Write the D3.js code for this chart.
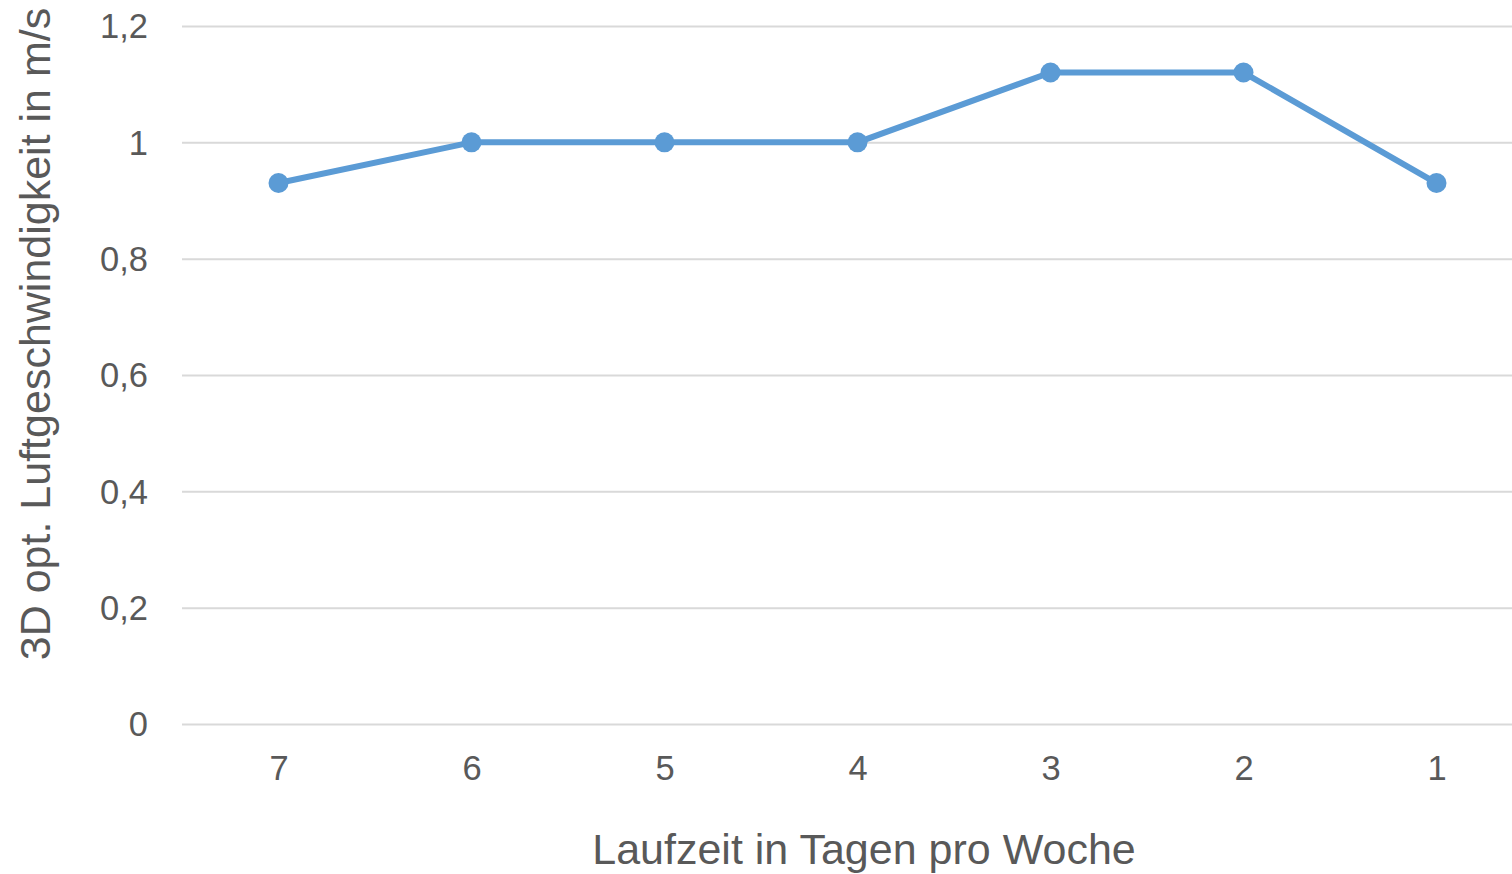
<!DOCTYPE html>
<html><head><meta charset="utf-8">
<script src="https://cdn.jsdelivr.net/npm/d3@7"></script>
<style>html,body{margin:0;padding:0;background:#fff;overflow:hidden}</style>
</head><body>
<svg id="c" width="1512" height="874"></svg>
<script>
const categories = ["7","6","5","4","3","2","1"];
const values = [0.93, 1.0, 1.0, 1.0, 1.12, 1.12, 0.93];
const yTicks = [0, 0.2, 0.4, 0.6, 0.8, 1.0, 1.2];
const xTitle = "Laufzeit in Tagen pro Woche";
const yTitle = "3D opt. Luftgeschwindigkeit in m/s";

(function(){
const svg = d3.select("#c");
const mL = 182, mR = 1533, mT = 26, mB = 724;
const x = d3.scalePoint().domain(categories).range([mL, mR]).padding(0.5);
const y = d3.scaleLinear().domain([0, 1.2]).range([mB, mT]);
const fmt = d => d3.format(".1~f")(d).replace(".", ",");
const font = "'Liberation Sans', Arial, sans-serif";

const ya = svg.append("g").attr("transform", `translate(${mL},0)`)
  .call(d3.axisLeft(y).tickValues(yTicks).tickFormat(fmt).tickSize(-(mR-mL)).tickPadding(34));
ya.select(".domain").remove();
ya.selectAll(".tick line").attr("stroke", "#d9d9d9").attr("stroke-width", 2);
ya.selectAll(".tick text").attr("fill", "#595959").style("font-family", font).style("font-size", "34.5px").attr("dy", "0.34em");

const xa = svg.append("g").attr("transform", `translate(0,${mB})`)
  .call(d3.axisBottom(x).tickSize(0).tickPadding(32));
xa.select(".domain").remove();
xa.selectAll(".tick text").attr("fill", "#595959").style("font-family", font).style("font-size", "34.5px").attr("dy", "0.71em");

const line = d3.line().x((d,i) => x(categories[i])).y(d => y(d));
svg.append("path").datum(values).attr("d", line).attr("fill", "none")
  .attr("stroke", "#5B9BD5").attr("stroke-width", 6).attr("stroke-linejoin", "round");
svg.selectAll("circle.pt").data(values).enter().append("circle").attr("class","pt")
  .attr("cx", (d,i) => x(categories[i])).attr("cy", d => y(d)).attr("r", 10).attr("fill", "#5B9BD5");

svg.append("text").attr("x", 864).attr("y", 864).attr("text-anchor", "middle")
  .attr("fill", "#595959").style("font-family", font).style("font-size", "43px").text(xTitle);
svg.append("text").attr("transform", "translate(50,334) rotate(-90)").attr("text-anchor", "middle")
  .attr("fill", "#595959").style("font-family", font).style("font-size", "43px").text(yTitle);
})();
</script>
</body></html>
